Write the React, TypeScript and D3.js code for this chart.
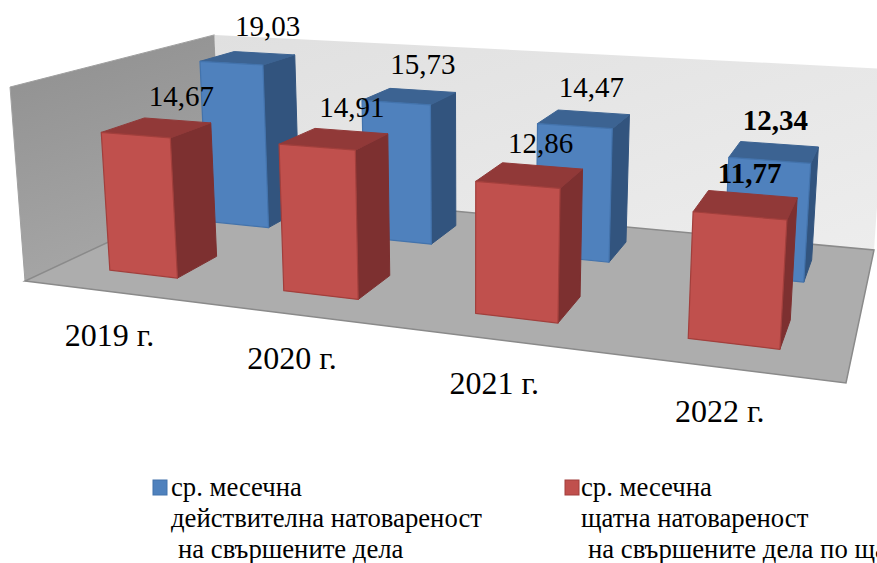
import React from "react";
import * as d3 from "d3";

const categories = ["2019 г.", "2020 г.", "2021 г.", "2022 г."];
const actualValues = [19.03, 15.73, 14.47, 12.34];
const staffValues = [14.67, 14.91, 12.86, 11.77];
const actualLabels = ["19,03", "15,73", "14,47", "12,34"];
const staffLabels = ["14,67", "14,91", "12,86", "11,77"];
const boldCategory = "2022 г.";
const axisDomain: [number, number] = [0, 20];
const legendBlue = ["ср. месечна", "действителна натовареност", "на свършените дела"];
const legendRed = ["ср. месечна", "щатна натовареност", "на свършените дела по щат"];

const W = 877;
const H = 563;
const FONT = "'Liberation Serif', 'Times New Roman', serif";

type P = [number, number];

// Plot box corners on the screen: used to build a projective camera.
const FL: P = [25, 281];
const FR: P = [846, 383];
const BL: P = [221, 189.5];
const BR: P = [874, 250];
const kZ = -0.0326;
const cZ = -15.3;
const fZ = -196.8;

const dx1 = FR[0] - BR[0];
const dy1 = FR[1] - BR[1];
const dx2 = BL[0] - BR[0];
const dy2 = BL[1] - BR[1];
const sx = FL[0] - FR[0] + BR[0] - BL[0];
const sy = FL[1] - FR[1] + BR[1] - BL[1];
const den = dx1 * dy2 - dx2 * dy1;
const g = (sx * dy2 - dx2 * sy) / den;
const h = (dx1 * sy - sx * dy1) / den;
const a = FR[0] - FL[0] + g * FR[0];
const b = BL[0] - FL[0] + h * BL[0];
const d = FR[1] - FL[1] + g * FR[1];
const e = BL[1] - FL[1] + h * BL[1];

function project(u: number, v: number, z: number): P {
  const w = g * u + h * v + kZ * z + 1;
  return [
    (a * u + b * v + cZ * z + FL[0]) / w,
    (d * u + e * v + fZ * z + FL[1]) / w,
  ];
}

const uScale = d3.scaleBand<string>().domain(categories).range([0, 1]).paddingInner(0.6).paddingOuter(0.3);
const vScale = d3.scaleBand<string>().domain(["staff", "actual"]).range([0, 1]).paddingInner(0.6).paddingOuter(0.3);
const zScale = d3.scaleLinear().domain(axisDomain).range([0, 1]);
const actualShift = d3.scaleLinear().domain([0, 1]).range([22.5, -2]);
const staffShift = d3.scaleLinear().domain([0, 1]).range([28, 0]);
const categoryShift = d3.scaleLinear().domain([0, 1]).range([0, -3.5]);

const poly = (pts: P[]) => (d3.line()(pts) as string) + "Z";

const palette = {
  actual: { front: "#4F81BD", side: "#32547E", top: "#3C6392", edge: "#4373AC", shift: actualShift },
  staff: { front: "#C0504D", side: "#7D3030", top: "#913938", edge: "#A23F3C", shift: staffShift },
};

function Bar({ cat, value, series }: { cat: string; value: number; series: "actual" | "staff" }) {
  const u0 = uScale(cat)!;
  const u1 = u0 + uScale.bandwidth();
  const v0 = vScale(series)!;
  const v1 = v0 + vScale.bandwidth();
  const z = zScale(value);
  const c = palette[series];
  const front = [project(u0, v0, 0), project(u1, v0, 0), project(u1, v0, z), project(u0, v0, z)];
  const side = [project(u1, v0, 0), project(u1, v1, 0), project(u1, v1, z), project(u1, v0, z)];
  const top = [project(u0, v0, z), project(u1, v0, z), project(u1, v1, z), project(u0, v1, z)];
  return (
    <g strokeLinejoin="round">
      <path d={poly(side)} fill={c.side} stroke={c.side} strokeWidth={1} />
      <path d={poly(top)} fill={c.top} stroke={c.top} strokeWidth={1} />
      <path d={poly(front)} fill={c.front} stroke={c.edge} strokeWidth={1.2} />
    </g>
  );
}

function ValueLabel({ cat, text, value, series }: { cat: string; text: string; value: number; series: "actual" | "staff" }) {
  const u = uScale(cat)! + uScale.bandwidth() / 2;
  const v = vScale(series)! + vScale.bandwidth() / 2;
  const [x, y] = project(u, v, zScale(value));
  return (
    <text
      x={x + palette[series].shift(u)}
      y={y - 22}
      textAnchor="middle"
      fontFamily={FONT}
      fontSize={29}
      fontWeight={cat === boldCategory ? 700 : 400}
      fill="#000"
    >
      {text}
    </text>
  );
}

function Legend({ x, gap, color, edge, lines }: { x: number; gap: number; color: string; edge: string; lines: string[] }) {
  const offs = [0, 0, 7];
  const ys = [496, 527, 558];
  return (
    <g>
      <rect x={x} y={480} width={14} height={15} fill={color} stroke={edge} strokeWidth={1} />
      {lines.map((t, i) => (
        <text key={i} x={x + gap + offs[i]} y={ys[i]} fontFamily={FONT} fontSize={26.7} fill="#000">
          {t}
        </text>
      ))}
    </g>
  );
}

export default function App() {
  const back = [project(0, 1, 0), project(1, 1, 0), project(1, 1, 1), project(0, 1, 1)];
  const left = [project(0, 0, 0), project(0, 1, 0), project(0, 1, 1), project(0, 0, 1)];
  const floor = [project(0, 0, 0), project(1, 0, 0), project(1, 1, 0), project(0, 1, 0)];
  return (
    <svg
      width={W}
      height={H}
      viewBox={`0 0 ${W} ${H}`}
      style={{ position: "absolute", left: 0, top: 0, display: "block", background: "#fff" }}
    >
      <defs>
        <linearGradient id="leftWall" x1="0" y1="0" x2="0.3" y2="1">
          <stop offset="0" stopColor="#8F8F8F" />
          <stop offset="1" stopColor="#A6A6A6" />
        </linearGradient>
        <linearGradient id="backWall" x1="0" y1="0" x2="1" y2="1">
          <stop offset="0" stopColor="#E0E0E0" />
          <stop offset="1" stopColor="#EDEDED" />
        </linearGradient>
      </defs>
      <path d={poly(left)} fill="url(#leftWall)" stroke="#A0A0A0" strokeWidth={1} />
      <path d={poly(back)} fill="url(#backWall)" />
      <path d={poly(floor)} fill="#ADADAD" stroke="#8A8A8A" strokeWidth={1.5} />
      {categories.map((c, i) => (
        <Bar key={c} cat={c} value={actualValues[i]} series="actual" />
      ))}
      {categories.map((c, i) => (
        <Bar key={c} cat={c} value={staffValues[i]} series="staff" />
      ))}
      {categories.map((c, i) => (
        <ValueLabel key={c} cat={c} text={actualLabels[i]} value={actualValues[i]} series="actual" />
      ))}
      {categories.map((c, i) => (
        <ValueLabel key={c} cat={c} text={staffLabels[i]} value={staffValues[i]} series="staff" />
      ))}
      {categories.map((c) => {
        const u = uScale(c)! + uScale.bandwidth() / 2;
        const [x, y] = project(u, 0, 0);
        return (
          <text key={c} x={x + categoryShift(u)} y={y + 54.5} textAnchor="middle" fontFamily={FONT} fontSize={32} fill="#000">
            {c}
          </text>
        );
      })}
      <Legend x={153} gap={18} color={palette.actual.front} edge={palette.actual.edge} lines={legendBlue} />
      <Legend x={565} gap={16} color={palette.staff.front} edge={palette.staff.edge} lines={legendRed} />
    </svg>
  );
}
